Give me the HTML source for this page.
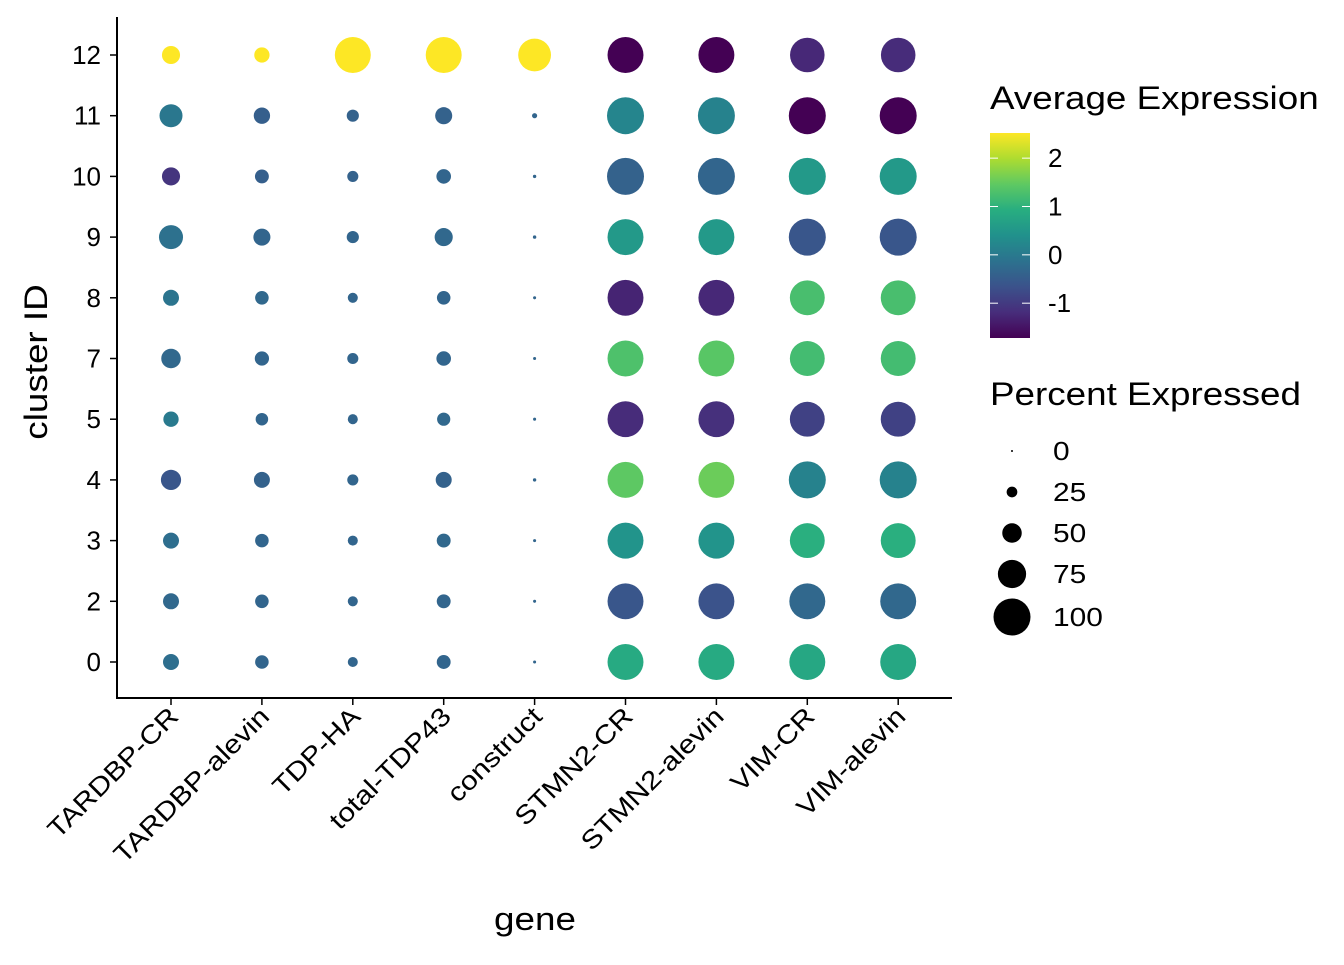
<!DOCTYPE html>
<html><head><meta charset="utf-8"><style>
body{margin:0;background:#fff;}
svg text{font-family:"Liberation Sans",Arial,sans-serif;}
</style></head><body>
<svg id="chart" width="1344" height="960" xmlns="http://www.w3.org/2000/svg">
<defs>
<linearGradient id="vir" x1="0" y1="1" x2="0" y2="0">
<stop offset="0" stop-color="#440154"/><stop offset="0.125" stop-color="#472d7b"/><stop offset="0.25" stop-color="#3b528b"/><stop offset="0.375" stop-color="#2c728e"/><stop offset="0.5" stop-color="#21918c"/><stop offset="0.625" stop-color="#28ae80"/><stop offset="0.75" stop-color="#5ec962"/><stop offset="0.875" stop-color="#addc30"/><stop offset="1" stop-color="#fde725"/>
</linearGradient>
</defs>
<g id="marks"></g>
<g id="axes"></g>
<g id="legend"></g>
</svg>
<script>
const genes = ["TARDBP-CR","TARDBP-alevin","TDP-HA","total-TDP43","construct","STMN2-CR","STMN2-alevin","VIM-CR","VIM-alevin"];
const clusters = ["0","2","3","4","5","7","8","9","10","11","12"];
const avgExp = [
 [-0.2,-0.3,-0.2,-0.6,0.0,-0.3,-0.1,-0.15,-1.08,-0.05,2.52],
 [-0.35,-0.35,-0.35,-0.4,-0.35,-0.35,-0.3,-0.35,-0.45,-0.45,2.52],
 [-0.35,-0.35,-0.35,-0.35,-0.35,-0.35,-0.35,-0.35,-0.4,-0.4,2.52],
 [-0.35,-0.35,-0.3,-0.4,-0.3,-0.35,-0.35,-0.3,-0.35,-0.4,2.52],
 [-0.35,-0.35,-0.35,-0.35,-0.35,-0.35,-0.35,-0.35,-0.35,-0.35,2.52],
 [0.85,-0.6,0.45,1.45,-1.2,1.3,-1.3,0.55,-0.4,0.2,-1.72],
 [0.85,-0.65,0.45,1.55,-1.15,1.4,-1.25,0.55,-0.35,0.15,-1.72],
 [0.8,-0.3,0.95,0.15,-0.9,1.2,1.25,-0.6,0.55,-1.72,-1.25],
 [0.8,-0.3,0.95,0.15,-0.9,1.2,1.25,-0.6,0.55,-1.72,-1.2]
];
const pctExp = [
 [40,40,40,52,38,50,40,63,46,60,46],
 [33,33,33,40,30,35,33,43,34,41,38],
 [23,23,23,26,23,26,23,29,26,29,97],
 [34,34,34,40,32,36,33,46,36,43,97],
 [3,3,3,4,3,3,3,4,4,9,88],
 [97,97,97,97,97,97,97,97,100,100,97],
 [97,97,97,97,97,97,97,97,100,100,97],
 [97,97,94,100,94,94,94,100,100,100,93],
 [97,97,94,100,94,94,94,100,100,100,93]
];
const colorTicks = [-1,0,1,2];
const sizeBreaks = [0,25,50,75,100];
const expMin=-1.72, expMax=2.52;
const NS="http://www.w3.org/2000/svg";
const WF=1.15;
function el(t,a,p){const e=document.createElementNS(NS,t);for(const k in a)e.setAttribute(k,a[k]);p.appendChild(e);return e;}
function widen(e){const L=e.getComputedTextLength();e.setAttribute('textLength',L*WF);e.setAttribute('lengthAdjust','spacingAndGlyphs');}
const vir=["#440154","#472d7b","#3b528b","#2c728e","#21918c","#28ae80","#5ec962","#addc30","#fde725"];
function hex(h){return [1,3,5].map(i=>parseInt(h.substr(i,2),16));}
function color(v){let t=(v-expMin)/(expMax-expMin);t=Math.max(0,Math.min(1,t));const s=t*8,i=Math.min(7,Math.floor(s)),f=s-i;const a=hex(vir[i]),b=hex(vir[i+1]);return "rgb("+a.map((x,k)=>Math.round(x+(b[k]-x)*f)).join(",")+")";}
function xs(i){return 171+i*90.9;}
function ys(j){return 662-j*60.7;}
function rs(p){return 1+0.175*p;}
const marks=document.getElementById('marks');
genes.forEach((g,i)=>clusters.forEach((c,j)=>{
 const d=el('circle',{cx:xs(i),cy:ys(j),r:rs(pctExp[i][j]),fill:color(avgExp[i][j])},marks);
 
 
}));
const ax=document.getElementById('axes');
el('line',{x1:117,y1:17,x2:117,y2:698,stroke:'#000','stroke-width':2},ax);
el('line',{x1:116,y1:698,x2:952,y2:698,stroke:'#000','stroke-width':2},ax);
clusters.forEach((c,j)=>{
 el('line',{x1:110,y1:ys(j),x2:117,y2:ys(j),stroke:'#000','stroke-width':1.5},ax);
 const t=el('text',{x:101,y:ys(j)+9,'text-anchor':'end','font-size':26,fill:'#000'},ax);t.textContent=c;
 
 
});
genes.forEach((g,i)=>{
 el('line',{x1:xs(i),y1:698,x2:xs(i),y2:705,stroke:'#000','stroke-width':1.5},ax);
 const x0=xs(i)+9, y0=718;
 const t=el('text',{x:x0,y:y0,'text-anchor':'end','font-size':26,fill:'#000',transform:'rotate(-45 '+x0+' '+y0+')'},ax);t.textContent=g;
 
 
 widen(t);
});
let t=el('text',{x:535,y:930,'text-anchor':'middle','font-size':32,fill:'#000'},ax);t.textContent='gene';


widen(t);
t=el('text',{x:47,y:362,'text-anchor':'middle','font-size':32,fill:'#000',transform:'rotate(-90 47 362)'},ax);t.textContent='cluster ID';


widen(t);
const lg=document.getElementById('legend');
t=el('text',{x:990,y:109,'font-size':32,fill:'#000'},lg);t.textContent='Average Expression';


widen(t);
const cb=el('rect',{x:990,y:133,width:40,height:205,fill:'url(#vir)'},lg);


function cy(v){return 338-(v-expMin)/(expMax-expMin)*205;}
colorTicks.forEach(v=>{
 el('line',{x1:990,y1:cy(v),x2:998,y2:cy(v),stroke:'#fff','stroke-width':1},lg);
 el('line',{x1:1022,y1:cy(v),x2:1030,y2:cy(v),stroke:'#fff','stroke-width':1},lg);
 const tt=el('text',{x:1048,y:cy(v)+9,'font-size':26,fill:'#000'},lg);tt.textContent=v;
 
 
});
t=el('text',{x:990,y:405,'font-size':32,fill:'#000'},lg);t.textContent='Percent Expressed';


widen(t);
const sy=[451,492,533,574,617];
sizeBreaks.forEach((p,k)=>{
 const c=el('circle',{cx:1012,cy:sy[k],r:rs(p),fill:'#000'},lg);
 
 
 const tt=el('text',{x:1053,y:sy[k]+9,'font-size':26,fill:'#000'},lg);tt.textContent=p;
 
 
 widen(tt);
});
</script>
</body></html>
